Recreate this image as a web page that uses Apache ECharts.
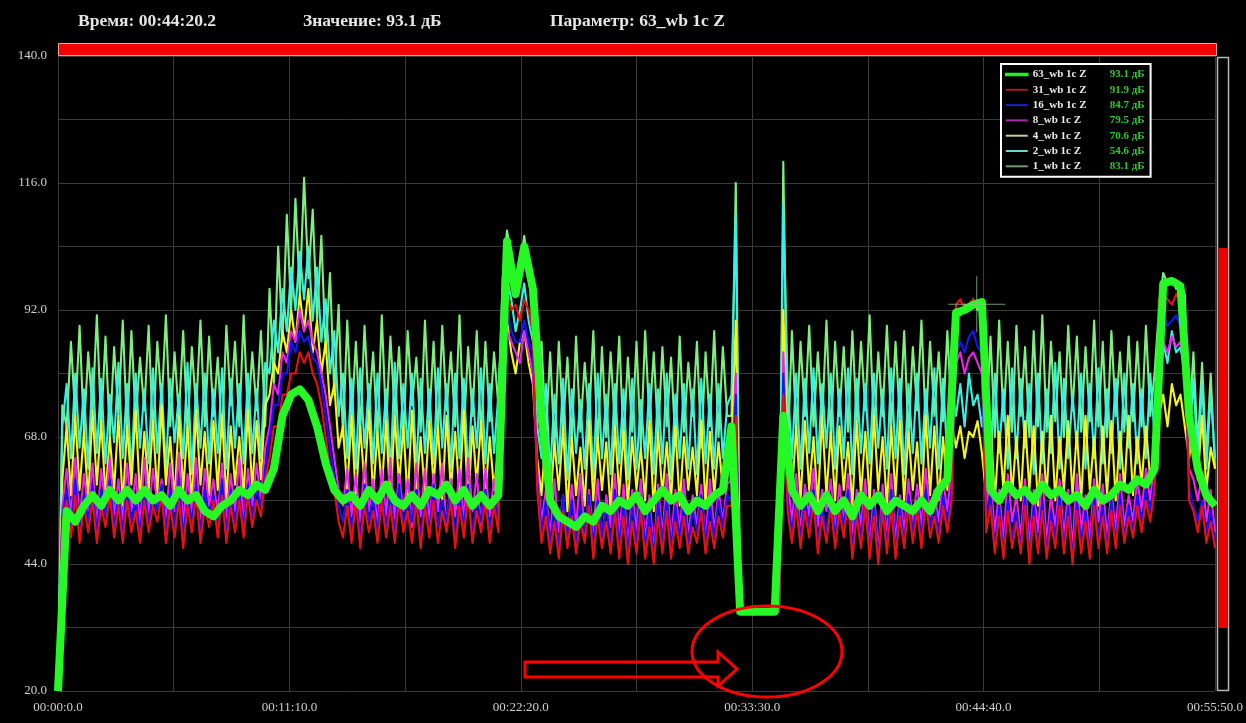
<!DOCTYPE html>
<html><head><meta charset="utf-8">
<script src="https://cdn.jsdelivr.net/npm/echarts@6/dist/echarts.min.js"></script>
<style>html,body{margin:0;padding:0;background:#000;}#c{width:1246px;height:723px;}</style>
</head><body><div id="c"></div>
<script>
// ---- data ----
const STEP_FINE = 12.5;  // seconds between samples of the spiky channels
const STEP_63 = 25;      // seconds between samples of the 63 channel
const seriesNames = ['63_wb 1c Z','31_wb 1c Z','16_wb 1c Z','8_wb 1c Z','4_wb 1c Z','2_wb 1c Z','1_wb 1c Z'];
const legendValues = [93.1, 91.9, 84.7, 79.5, 70.6, 54.6, 83.1];
const yLabelTicks = [20, 44, 68, 92, 116, 140];
const xLabelTicks = [0, 670, 1340, 2010, 2680, 3350];
const cursorTime = 2660.2, cursorValue = 93.1, cursorParam = '63_wb 1c Z';

const s63 = [20,54,52,55,57,55,58,56,58,56, 58,56,57,55,58,56,57,54,53,55, 56,58,57,59,58,62,72,76,77,75,
 70,63,58,56,57,55,58,56,59,56, 55,57,55,58,57,59,56,58,55,57, 55,57,105,95,104,96,72,56,53,52,
 51,53,52,55,54,56,55,57,54,56, 58,56,57,54,56,55,57,58,70,35, 35,35,35,35,72,58,55,57,54,57,
 54,56,53,57,55,57,54,56,55,54, 56,54,58,60,91.5,92,93,93.5,58,56, 59,57,58,56,59,57,58,56,57,55,
 58,56,57,59,58,60,59,62,97,97.5, 96.5,72,62,57,55];

const s1 = [20,
 74,70,86,72,89,69,84,73,91,70, 87,68,85,72,90,69,88,71,83,73, 89,68,86,74,91,70,84,72,88,69, 85,73,90,70,87,72,83,68,89,74, 86,70,91,71,84,73,88,70,
 96,78,104,86,110,92,113,95,117,98,111,90,106,84,99,76,93,68,
 90,71,86,69,89,73,84,68,91,70, 87,72,85,68,88,74,83,69,90,71, 86,68,89,73,84,70,91,69,85,72, 88,68,86,71,84,74,
 98,107,102,97,100,106,99,97,80,
 86,68,84,66,86,70,83,67,87,69, 82,71,88,66,85,68,84,70,87,67, 83,69,86,66,88,71,84,68,85,70, 83,67,87,69,82,72,86,66,84,70, 88,68,85,72,
 72,116,35,35,35,35,35,35,35,35,35,35,120,64,
 88,69,86,72,89,70,84,71,90,68, 86,72,85,69,88,71,86,73,91,69, 84,72,89,70,86,71,88,68,85,73, 90,70,86,72,84,71,88,72,
 92,91,93,92,94,92,93,
 70,87,68,90,71,86,69,89,72,85, 68,88,70,91,69,86,71,84,68,89, 73,87,69,85,71,90,70,86,68,88, 72,84,69,87,71,86,70,89,72,80,
 92,99,97,98,96,97,95,
 70,84,66,82,64,80,62];
const s2 = [20,
 70,78,64,80,66,77,62,81,65,79, 63,76,67,82,64,78,61,80,66,77, 63,81,65,78,62,79,67,76,64,82, 61,78,66,80,63,77,65,81,62,79, 66,78,63,80,65,77,64,82,
 80,90,84,96,88,100,92,103,94,104,90,100,86,94,80,88,72,80,
 64,79,62,81,66,78,63,80,65,77, 61,82,64,78,66,80,62,79,65,77, 63,81,66,78,62,80,64,79,61,77, 66,81,63,78,65,76,
 92,98,94,88,92,97,90,86,70,
 64,78,61,76,63,79,60,77,65,75, 62,78,60,80,64,76,61,78,63,77, 60,79,62,75,64,78,61,77,63,80, 60,76,64,78,62,77,61,79,63,76, 62,78,64,74,
 76,110,35,35,35,35,35,35,35,35,35,35,112,78,
 64,80,62,79,65,81,63,78,66,80, 62,77,64,81,61,79,65,78,63,80, 66,77,62,81,64,79,61,78,65,80, 63,77,66,81,62,79,64,78,
 72,78,70,80,74,76,70,
 78,63,80,65,77,62,81,64,79,66, 78,61,80,63,77,65,82,62,79,64, 76,66,80,62,78,64,81,63,77,65, 79,62,80,66,78,63,77,64,80,68,
 80,86,82,88,84,85,80,
 66,79,63,78,62,76,64];
const s4 = [20,
 60,70,57,72,58,69,56,73,59,71, 57,68,58,72,55,70,59,73,56,69, 58,71,57,74,59,68,56,72,58,70, 55,73,59,69,57,71,58,72,56,70, 59,68,57,73,58,71,60,74,
 76,82,80,88,84,92,86,95,88,96,84,90,80,86,74,78,66,70,
 58,72,56,70,59,73,57,69,58,71, 55,72,59,70,56,73,58,68,57,71, 59,70,56,72,58,69,57,73,55,70, 59,71,57,68,58,66,
 86,90,84,80,86,88,82,78,64,
 57,69,55,67,58,70,54,68,57,66, 55,71,56,68,58,67,54,70,57,69, 55,68,58,66,56,71,54,69,57,67, 56,70,55,68,58,66,57,71,55,69, 57,67,58,66,
 66,90,35,35,35,35,35,35,35,35,35,35,92,66,
 57,70,56,71,58,68,55,72,57,69, 56,70,58,67,55,71,57,69,56,72, 58,68,55,70,57,71,56,69,58,67, 55,72,57,70,56,68,58,71,
 66,70,64,69,68,71,65,
 57,71,56,69,58,72,57,68,56,71, 58,70,55,69,57,72,56,68,58,71, 57,69,56,72,58,68,55,70,57,71, 56,69,58,72,57,68,59,70,60,66,
 72,76,70,78,74,76,70,
 64,70,60,72,58,66,62];
const s8 = [20,
 55,62,53,64,52,61,54,63,51,62, 55,64,53,60,52,63,54,61,51,64, 53,62,55,60,52,63,54,65,51,61, 53,64,52,62,55,60,53,63,52,61, 54,64,51,62,55,63,56,66,
 70,78,76,84,82,88,86,92,88,90,86,84,80,76,70,64,58,55,
 62,53,61,52,63,54,60,51,62,53, 64,52,61,54,60,51,63,53,62,52, 61,54,63,51,60,53,62,52,64,54, 61,51,62,53,60,54,
 82,88,86,84,82,88,84,80,62,
 52,58,49,60,50,57,48,59,51,61, 49,58,50,60,48,57,51,61,49,59, 47,58,50,60,48,57,46,59,49,61, 48,58,50,60,49,57,51,59,48,60, 50,58,52,59,
 60,80,35,35,35,35,35,35,35,35,35,35,84,60,
 52,61,50,59,53,62,51,58,54,60, 50,59,52,61,49,58,51,60,47,58, 46,59,49,61,48,57,50,60,52,59, 51,62,53,58,52,60,54,62,
 82,84,80,83,84,82,80,
 55,60,50,58,48,61,52,57,49,60, 47,58,50,61,48,57,51,60,49,58, 47,61,50,57,48,60,52,59,49,58, 50,61,51,57,52,60,54,62,56,64,
 82,86,84,87,85,86,82,
 62,60,56,61,52,58,50];
const s16 = [20,
 53,58,51,60,50,57,52,59,50,58, 53,60,51,57,50,59,52,56,50,58, 52,57,54,59,50,58,51,60,49,57, 52,59,50,58,53,57,51,60,50,58, 52,57,51,59,53,58,55,62,
 68,74,74,80,80,86,84,88,86,87,83,82,78,72,66,60,55,52,
 58,50,57,49,59,52,56,50,58,51, 57,50,59,51,56,52,58,49,57,50, 59,51,56,52,58,49,57,51,59,50, 56,52,58,50,57,52,
 86,92,88,86,86,90,86,84,60,
 50,56,48,55,47,57,49,56,48,55, 50,57,47,56,49,55,48,58,47,56, 46,55,48,57,47,54,45,56,48,57, 47,55,49,56,48,54,50,57,48,55, 49,56,51,57,
 56,76,35,35,35,35,35,35,35,35,35,35,80,56,
 50,57,49,56,51,58,48,55,50,57, 49,56,51,58,47,55,49,57,46,55, 45,56,47,58,46,55,48,57,50,56, 49,58,51,55,50,57,52,58,
 84,86,84,87,88,85,84,
 52,57,47,55,46,56,49,54,47,57, 45,55,47,56,46,54,49,57,47,55, 45,56,48,54,46,57,49,55,47,56, 48,57,49,55,50,57,52,58,54,60,
 88,91,89,90,91,89,86,
 58,55,52,56,50,54,48];
const s31 = [20,
 52,56,49,57,48,55,50,56,48,55, 51,57,49,55,48,56,50,54,48,56, 50,55,52,57,48,55,49,56,47,55, 50,57,48,55,51,56,49,57,48,55, 50,56,49,57,51,56,53,60,
 64,70,70,76,76,80,80,84,82,84,80,78,74,68,62,58,52,49,
 55,48,56,47,55,50,54,48,56,49, 55,48,56,50,54,48,56,47,55,49, 56,48,54,50,56,47,55,49,57,48, 54,50,56,48,55,50,
 90,95,92,93,90,94,92,88,58,
 48,53,46,52,45,54,47,53,46,52, 48,55,45,53,47,52,46,54,45,53, 44,52,46,54,45,51,44,53,46,54, 45,52,47,53,46,51,48,54,46,52, 47,53,49,55,
 55,72,35,35,35,35,35,35,35,35,35,35,76,54,
 48,55,47,54,49,56,46,53,48,55, 47,54,49,56,45,53,47,55,45,53, 44,54,46,55,45,53,47,55,48,54, 47,56,49,53,48,55,50,56,
 93,94,92,93,94,93,92,
 50,55,46,53,45,54,47,52,46,55, 44,53,46,54,45,52,47,55,46,53, 44,54,46,52,45,55,47,53,46,54, 47,55,48,53,49,55,50,56,52,58,
 94,95,94,93,95,94,90,
 56,54,50,55,48,52,47];

// ---- build ----
const pair = (arr, step) => arr.map((v, i) => [i * step, v]);
const pad2 = n => (n < 10 ? '0' : '') + n;
function fmtTime(sec) {
  const h = Math.floor(sec / 3600), m = Math.floor((sec % 3600) / 60);
  const s = Math.round((sec - h * 3600 - m * 60) * 10) / 10;
  return pad2(h) + ':' + pad2(m) + ':' + s.toFixed(1);
}
const lineColors = {
  '63_wb 1c Z': '#25f825', '31_wb 1c Z': '#e81010', '16_wb 1c Z': '#1414ff',
  '8_wb 1c Z': '#f020f0', '4_wb 1c Z': '#f4f41e', '2_wb 1c Z': '#36f2e6', '1_wb 1c Z': '#7cef7c'
};
const legendColors = {
  '63_wb 1c Z': '#22ee22', '31_wb 1c Z': '#a01c1c', '16_wb 1c Z': '#2020c8',
  '8_wb 1c Z': '#a52aad', '4_wb 1c Z': '#c9c99a', '2_wb 1c Z': '#6ad8d0', '1_wb 1c Z': '#6f9a6f'
};
const dataByName = {'63_wb 1c Z': pair(s63, STEP_63), '31_wb 1c Z': pair(s31, STEP_FINE), '16_wb 1c Z': pair(s16, STEP_FINE),
  '8_wb 1c Z': pair(s8, STEP_FINE), '4_wb 1c Z': pair(s4, STEP_FINE), '2_wb 1c Z': pair(s2, STEP_FINE), '1_wb 1c Z': pair(s1, STEP_FINE)};
const drawOrder = ['1_wb 1c Z','2_wb 1c Z','4_wb 1c Z','8_wb 1c Z','16_wb 1c Z','31_wb 1c Z','63_wb 1c Z'];
const series = drawOrder.map(n => ({
  name: n, type: 'line', data: dataByName[n], symbol: 'none', showSymbol: false,
  lineStyle: {color: lineColors[n], width: n === '63_wb 1c Z' ? 8 : 2.1, join: 'round'},
  itemStyle: {color: lineColors[n]}, z: n === '63_wb 1c Z' ? 5 : 3, silent: true, animation: false
}));
series.push({
  type: 'scatter', data: [[cursorTime, cursorValue]], symbol: 'path://M0,28 L57,28 M28.5,0 L28.5,56',
  symbolSize: [57, 56], itemStyle: {color: 'none', borderColor: '#8fbf8f', borderWidth: 1}, z: 10, silent: true
});
const legendMap = {};
seriesNames.forEach((n, i) => legendMap[n] = legendValues[i]);

const serif = '"Liberation Serif", "Times New Roman", serif';
const chart = echarts.init(document.getElementById('c'));
chart.setOption({
  backgroundColor: '#000',
  animation: false,
  title: [
    {text: 'Время: ' + fmtTime(cursorTime), left: 78, top: 12},
    {text: 'Значение: ' + cursorValue.toFixed(1) + ' дБ', left: 303, top: 12},
    {text: 'Параметр: ' + cursorParam, left: 550, top: 12}
  ].map(t => Object.assign(t, {padding: 0, textStyle: {color: '#e6e6e6', fontFamily: serif, fontWeight: 'bold', fontSize: 17.5}})),
  grid: {left: 58, right: 29, top: 56, bottom: 32, containLabel: false},
  xAxis: {
    type: 'value', min: 0, max: 3350, interval: 335,
    axisLine: {show: false}, axisTick: {show: false},
    splitLine: {show: true, lineStyle: {color: '#3a3a3a', width: 1}},
    axisLabel: {color: '#d0d0d0', fontFamily: serif, fontSize: 13, margin: 10, showMaxLabel: true, showMinLabel: true,
      formatter: v => xLabelTicks.includes(v) ? fmtTime(v) : ''}
  },
  yAxis: {
    type: 'value', min: 20, max: 140, interval: 12,
    axisLine: {show: false}, axisTick: {show: false},
    splitLine: {show: true, lineStyle: {color: '#3a3a3a', width: 1}},
    axisLabel: {color: '#d0d0d0', fontFamily: serif, fontSize: 13, margin: 11,
      formatter: v => yLabelTicks.includes(v) ? v.toFixed(1) : ''}
  },
  legend: {
    data: seriesNames.map(n => ({
      name: n, icon: 'rect',
      itemStyle: n === '63_wb 1c Z'
        ? {color: legendColors[n], borderColor: legendColors[n], borderWidth: 1.5}
        : {color: legendColors[n], borderWidth: 0}
    })),
    orient: 'vertical', left: 1001, top: 64,
    backgroundColor: '#000', borderColor: '#ffffff', borderWidth: 2,
    padding: [5, 6, 5, 4], itemGap: 4.3, itemWidth: 22, itemHeight: 2,
    selectedMode: false,
    formatter: n => '{n|' + n + '}{v|' + legendMap[n].toFixed(1) + ' дБ}',
    textStyle: {
      rich: {
        n: {color: '#ececec', fontFamily: serif, fontWeight: 'bold', fontSize: 11, width: 77, height: 13},
        v: {color: '#2ec82e', fontFamily: serif, fontWeight: 'bold', fontSize: 11, height: 13}
      }
    }
  },
  graphic: [
    {type: 'rect', shape: {x: 58.5, y: 43.5, width: 1158, height: 12}, style: {fill: '#f00000', stroke: '#f3a3a3', lineWidth: 1}, z: 100},
    {type: 'rect', shape: {x: 1217.5, y: 57.5, width: 11, height: 633}, style: {fill: 'none', stroke: '#b8b8b8', lineWidth: 1.5}, z: 100},
    {type: 'rect', shape: {x: 1218.5, y: 248, width: 9.5, height: 380}, style: {fill: '#ee0000'}, z: 101},
    {type: 'ellipse', shape: {cx: 767, cy: 651.5, rx: 75, ry: 45.5}, style: {fill: 'none', stroke: '#ff0000', lineWidth: 3}, z: 100},
    {type: 'polygon', shape: {points: [[525,662],[718,662],[718,652],[737,669],[718,686],[718,677],[525,677]]},
      style: {fill: 'none', stroke: '#ff0000', lineWidth: 3}, z: 100}
  ],
  series: series
});
</script>
</body></html>
